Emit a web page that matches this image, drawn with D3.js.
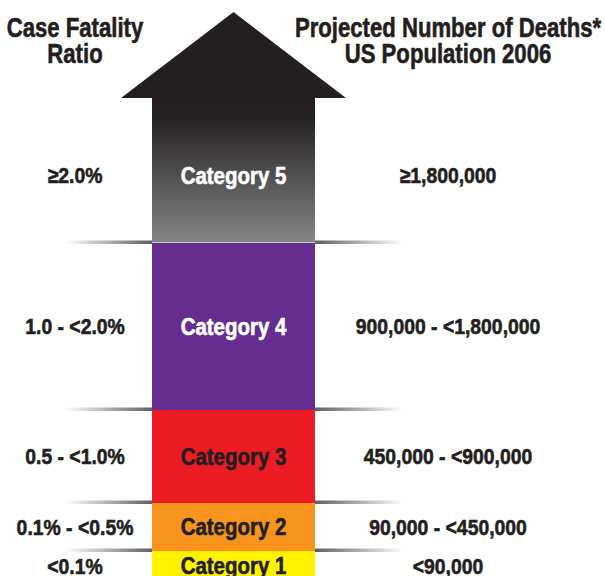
<!DOCTYPE html>
<html lang="en">
<head>
    <meta charset="UTF-8">
    <title>Pandemic Severity Index</title>
    <script src="https://d3js.org/d3.v7.min.js"></script>
    <style>
        body{
            margin: 0;
            background-color: white;
        }
        svg text{
            font-family: "Liberation Sans", Arial, sans-serif;
            font-weight: bold;
            fill: #231f20;
            stroke: #231f20;
            stroke-width: 0.6px;
            text-anchor: middle;
        }
        .head{
            font-size: 27px;
        }
        .side{
            font-size: 22px;
        }
        .cat{
            font-size: 23.5px;
        }
    </style>
</head>
<body>
<svg id="canvas" width="605" height="576"></svg>
<script>

    // data
    let categories = ["Category 1", "Category 2", "Category 3", "Category 4", "Category 5"];
    let cfrEdges = [0, 0.1, 0.5, 1.0, 2.0, 3.0];   // last edge = open top of category 5
    let cfrLabels = ["<0.1%", "0.1% - <0.5%", "0.5 - <1.0%", "1.0 - <2.0%", "\u22652.0%"];
    let deathLabels = ["<90,000", "90,000 - <450,000", "450,000 - <900,000", "900,000 - <1,800,000", "\u22651,800,000"];
    let leftTitle = ["Case Fatality", "Ratio"];
    let rightTitle = ["Projected Number of Deaths*", "US Population 2006"];

    let svg = d3.select('svg');
    let defs = svg.append('defs');

    let y = d3.scaleLinear()
        .domain(cfrEdges)
        .range([581, 551, 503, 410, 243, 98]);

    let shaft = {x0: 152, x1: 315};
    let mid = (shaft.x0 + shaft.x1) / 2;
    let headHalf = 112.5, tipY = 12;
    let leftX = 75, rightX = 448;

    let fill = d3.scaleOrdinal()
        .domain(categories)
        .range(["#fff200", "#f7941d", "#ed1c24", "#662d91", "url(#g5)"]);
    let textFill = d3.scaleOrdinal()
        .domain(categories)
        .range(["#231f20", "#231f20", "#231f20", "#ffffff", "#ffffff"]);

    let g5 = defs.append('linearGradient').attr('id', 'g5')
        .attr('x1', 0).attr('x2', 0).attr('y1', 0).attr('y2', 1);
    g5.append('stop').attr('offset', '0%').attr('stop-color', '#231f20');
    g5.append('stop').attr('offset', '15%').attr('stop-color', '#262324');
    g5.append('stop').attr('offset', '100%').attr('stop-color', '#858687');

    ['L', 'R'].forEach(function (s){
        let g = defs.append('linearGradient').attr('id', 'sep' + s)
            .attr('x1', s === 'L' ? 0 : 1).attr('x2', s === 'L' ? 1 : 0)
            .attr('y1', 0).attr('y2', 0);
        g.append('stop').attr('offset', '0%').attr('stop-color', '#ffffff');
        g.append('stop').attr('offset', '100%').attr('stop-color', '#5e5f61');
    });

    let bands = categories.map(function (c, i){
        return {cat: c, lo: cfrEdges[i], hi: cfrEdges[i + 1], left: cfrLabels[i], right: deathLabels[i]};
    });

    // separator lines at each inner boundary
    let inner = cfrEdges.slice(1, 5);
    svg.append('g').selectAll('rect')
        .data(inner)
        .enter()
        .append('rect')
        .attr('x', 65)
        .attr('width', shaft.x0 - 65)
        .attr('y', function (d){ return y(d) - 2.5; })
        .attr('height', 3.5)
        .attr('fill', 'url(#sepL)');
    svg.append('g').selectAll('rect')
        .data(inner)
        .enter()
        .append('rect')
        .attr('x', shaft.x1)
        .attr('width', 403 - shaft.x1)
        .attr('y', function (d){ return y(d) - 2.5; })
        .attr('height', 3.5)
        .attr('fill', 'url(#sepR)');

    // arrow head
    let headBase = y(cfrEdges[5]);
    svg.append('path')
        .attr('d', d3.line()([[mid, tipY], [mid + headHalf, headBase], [mid - headHalf, headBase]]) + 'Z')
        .attr('fill', '#231f20');

    // shaft bands
    svg.append('g').selectAll('rect')
        .data(bands)
        .enter()
        .append('rect')
        .attr('x', shaft.x0)
        .attr('width', shaft.x1 - shaft.x0)
        .attr('y', function (d){ return y(d.hi) - (d.cat === "Category 5" ? 0.5 : 0); })
        .attr('height', function (d){ return y(d.lo) - y(d.hi); })
        .attr('fill', function (d){ return fill(d.cat); });

    function labelY(d){
        let c = (y(d.lo) + y(d.hi)) / 2;
        return d.cat === "Category 5" ? c + 5 : c;
    }

    // condensed look: squeeze the text horizontally
    function squeeze(sel, x, yy, s){
        sel.attr('transform', function (d, i){
            return 'translate(' + x + ',' + yy(d, i) + ') scale(' + s + ',1)';
        });
    }

    let rows = svg.append('g').selectAll('g')
        .data(bands)
        .enter()
        .append('g');

    rows.append('text')
        .attr('class', 'cat')
        .attr('dy', '0.36em')
        .style('fill', function (d){ return textFill(d.cat); })
        .style('stroke', function (d){ return textFill(d.cat); })
        .text(function (d){ return d.cat; })
        .call(squeeze, mid, labelY, 0.87);

    rows.append('text')
        .attr('class', 'side')
        .attr('dy', '0.36em')
        .text(function (d){ return d.left; })
        .call(squeeze, leftX, labelY, 0.88);

    rows.append('text')
        .attr('class', 'side')
        .attr('dy', '0.36em')
        .text(function (d){ return d.right; })
        .call(squeeze, rightX, labelY, 0.88);

    // column titles
    svg.append('g').selectAll('text')
        .data(leftTitle)
        .enter()
        .append('text')
        .attr('class', 'head')
        .text(function (d){ return d; })
        .call(squeeze, leftX, function (d, i){ return 37 + i * 26; }, 0.82);

    svg.append('g').selectAll('text')
        .data(rightTitle)
        .enter()
        .append('text')
        .attr('class', 'head')
        .text(function (d){ return d; })
        .call(squeeze, rightX, function (d, i){ return 37 + i * 26; }, 0.82);

</script>
</body>
</html>
